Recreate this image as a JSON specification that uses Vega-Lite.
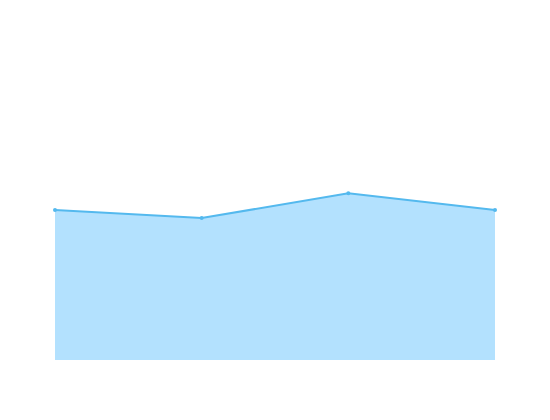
{
  "$schema": "https://vega.github.io/schema/vega-lite/v6.json",
  "autosize": {"type": "none"},
  "width": 440,
  "height": 300,
  "padding": {"left": 55, "top": 60, "right": 55, "bottom": 60},
  "background": "white",
  "config": {"view": {"stroke": null}},
  "data": {
    "values": [
      {"x": 1, "y": 50.0},
      {"x": 2, "y": 47.3},
      {"x": 3, "y": 55.6},
      {"x": 4, "y": 50.0}
    ]
  },
  "encoding": {
    "x": {"field": "x", "type": "quantitative", "scale": {"domain": [1, 4], "nice": false, "zero": false}, "axis": null},
    "y": {"field": "y", "type": "quantitative", "scale": {"domain": [0, 100], "nice": false}, "axis": null}
  },
  "layer": [
    {"mark": {"type": "area", "color": "#b3e1fe", "opacity": 1}},
    {"mark": {"type": "line", "color": "#54b9ee", "strokeWidth": 2}},
    {"mark": {"type": "point", "filled": true, "color": "#54b9ee", "size": 16, "opacity": 1}}
  ]
}
